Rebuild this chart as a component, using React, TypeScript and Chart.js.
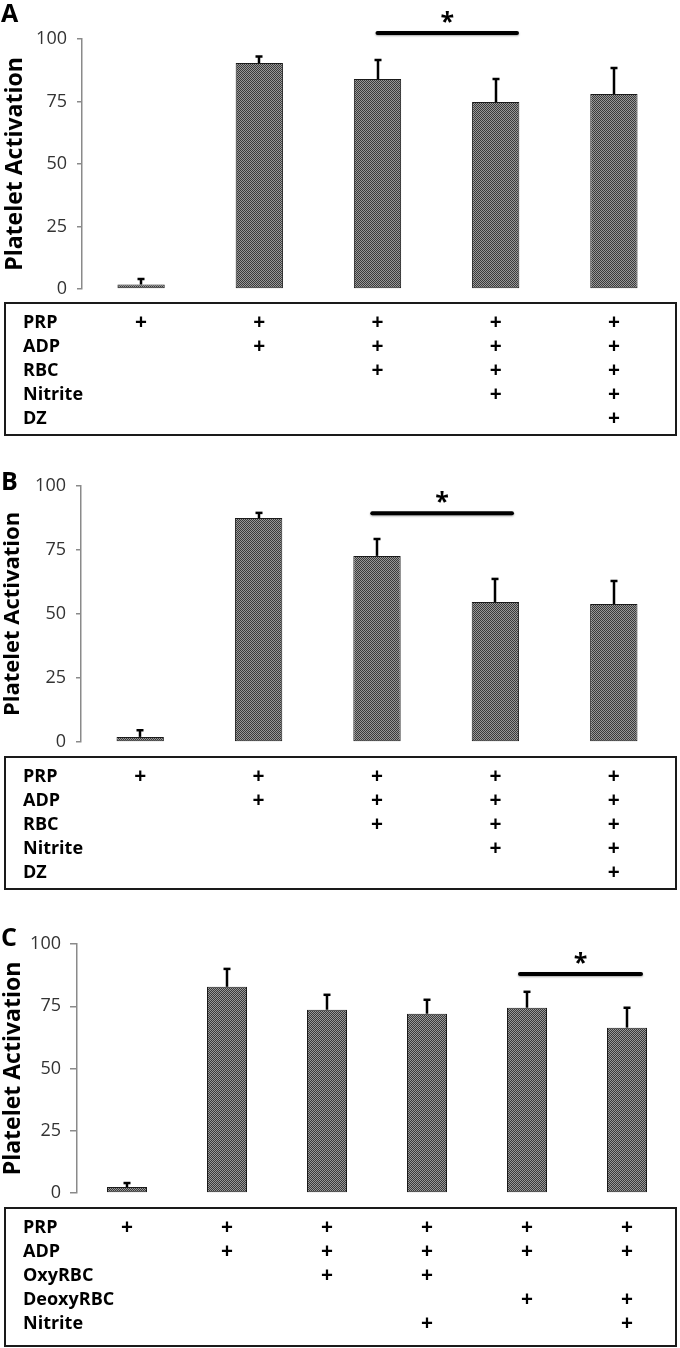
import React, { useEffect, useRef } from "react";
import { Chart, registerables } from "chart.js";
Chart.register(...registerables);

// ---------- Data ----------
const yTicks = [0, 25, 50, 75, 100];
const axisTitle = "Platelet Activation";

// Panel A
const categoriesA = ["PRP", "PRP+ADP", "PRP+ADP+RBC", "PRP+ADP+RBC+Nitrite", "PRP+ADP+RBC+Nitrite+DZ"];
const meansA = [1.8, 90.4, 84, 74.8, 78];
const errorsA = [2.2, 2.6, 7.6, 9.2, 10.4];
const rowLabelsA = ["PRP", "ADP", "RBC", "Nitrite", "DZ"];
const marksA = [
  [1, 1, 1, 1, 1],
  [0, 1, 1, 1, 1],
  [0, 0, 1, 1, 1],
  [0, 0, 0, 1, 1],
  [0, 0, 0, 0, 1],
];
const sigA = { from: 2, to: 3.18, level: 102.4 };

// Panel B
const categoriesB = ["PRP", "PRP+ADP", "PRP+ADP+RBC", "PRP+ADP+RBC+Nitrite", "PRP+ADP+RBC+Nitrite+DZ"];
const meansB = [2.0, 87.5, 72.7, 54.7, 53.9];
const errorsB = [2.6, 2.0, 6.6, 9.0, 9.0];
const rowLabelsB = ["PRP", "ADP", "RBC", "Nitrite", "DZ"];
const marksB = [
  [1, 1, 1, 1, 1],
  [0, 1, 1, 1, 1],
  [0, 0, 1, 1, 1],
  [0, 0, 0, 1, 1],
  [0, 0, 0, 0, 1],
];
const sigB = { from: 1.96, to: 3.14, level: 89.4 };

// Panel C
const categoriesC = ["PRP", "PRP+ADP", "PRP+ADP+OxyRBC", "PRP+ADP+OxyRBC+Nitrite", "PRP+ADP+DeoxyRBC", "PRP+ADP+DeoxyRBC+Nitrite"];
const meansC = [2.4, 82.8, 73.6, 72, 74.4, 66.4];
const errorsC = [1.6, 7.2, 6, 5.6, 6.4, 8];
const rowLabelsC = ["PRP", "ADP", "OxyRBC", "DeoxyRBC", "Nitrite"];
const marksC = [
  [1, 1, 1, 1, 1, 1],
  [0, 1, 1, 1, 1, 1],
  [0, 0, 1, 1, 0, 0],
  [0, 0, 0, 0, 1, 1],
  [0, 0, 0, 1, 0, 1],
];
const sigC = { from: 3.93, to: 5.14, level: 88 };

// ---------- Layout (not data) ----------
const panels = [
  {
    letter: "A", categories: categoriesA, means: meansA, errors: errorsA, rows: rowLabelsA, marks: marksA, sig: sigA,
    top: 0, h: 440, axisX: 82, chartTop: 39, chartBottom: 289, rightPad: 7, tableTop: 303, tableH: 132,
    letterBase: 22, titleSize: 23, titlePad: 2, tickLen: 5, tickPad: 10,
  },
  {
    letter: "B", categories: categoriesB, means: meansB, errors: errorsB, rows: rowLabelsB, marks: marksB, sig: sigB,
    top: 440, h: 455, axisX: 81, chartTop: 46, chartBottom: 302, rightPad: 7, tableTop: 317, tableH: 132,
    letterBase: 50, titleSize: 22, titlePad: 0, tickLen: 5, tickPad: 10,
  },
  {
    letter: "C", categories: categoriesC, means: meansC, errors: errorsC, rows: rowLabelsC, marks: marksC, sig: sigC,
    top: 895, h: 453, axisX: 77, chartTop: 49, chartBottom: 298, rightPad: 3, tableTop: 313, tableH: 138,
    letterBase: 51, titleSize: 23, titlePad: 0, tickLen: 7, tickPad: 9,
  },
];

const FONT = '"Open Sans", "DejaVu Sans", sans-serif';

function makePattern(ctx: CanvasRenderingContext2D) {
  const pc = document.createElement("canvas");
  pc.width = 2;
  pc.height = 2;
  const g = pc.getContext("2d")!;
  g.fillStyle = "#989898";
  g.fillRect(0, 0, 2, 2);
  g.fillStyle = "#3a3a3a";
  g.fillRect(0, 0, 1, 1);
  g.fillRect(1, 1, 1, 1);
  return ctx.createPattern(pc, "repeat")!;
}

function Panel({ p }: { p: any }) {
  const ref = useRef<HTMLCanvasElement>(null);
  useEffect(() => {
    const canvas = ref.current!;
    const ctx2 = canvas.getContext("2d")!;
    const pattern = makePattern(ctx2);
    const extras = {
      id: "extras" + p.letter,
      afterDatasetsDraw(chart: any) {
        const { ctx, scales } = chart;
        const x = scales.x, y = scales.y;
        ctx.save();
        ctx.strokeStyle = "#000";
        ctx.lineWidth = 2.5;
        p.means.forEach((m: number, i: number) => {
          const cx = Math.round(x.getPixelForValue(i));
          const y0 = y.getPixelForValue(m);
          const y1 = y.getPixelForValue(m + p.errors[i]);
          ctx.beginPath();
          ctx.moveTo(cx, y0);
          ctx.lineTo(cx, y1);
          ctx.stroke();
          ctx.beginPath();
          ctx.moveTo(cx - 3.5, y1);
          ctx.lineTo(cx + 3.5, y1);
          ctx.stroke();
        });
        ctx.restore();
      },
      afterDraw(chart: any) {
        const { ctx, scales } = chart;
        const x = scales.x, y = scales.y;
        ctx.save();
        // significance bar
        const sx0 = x.getPixelForValue(p.sig.from);
        const sx1 = x.getPixelForValue(p.sig.to);
        const sy = y.getPixelForValue(p.sig.level);
        ctx.shadowColor = "rgba(0,0,0,0.35)";
        ctx.shadowBlur = 2;
        ctx.shadowOffsetY = 1;
        ctx.strokeStyle = "#000";
        ctx.lineWidth = 4;
        ctx.lineCap = "round";
        ctx.beginPath();
        ctx.moveTo(sx0, sy);
        ctx.lineTo(sx1, sy);
        ctx.stroke();
        ctx.shadowColor = "transparent";
        ctx.fillStyle = "#000";
        ctx.font = `bold 25px ${FONT}`;
        ctx.textAlign = "center";
        ctx.textBaseline = "alphabetic";
        ctx.fillText("*", (sx0 + sx1) / 2, sy - 16 + 13);
        // panel letter
        ctx.textAlign = "left";
        ctx.font = `bold 25px ${FONT}`;
        ctx.fillText(p.letter, 1, p.letterBase);
        // table
        ctx.strokeStyle = "#1a1a1a";
        ctx.lineWidth = 2;
        ctx.strokeRect(5, p.tableTop, 671, p.tableH);
        ctx.textBaseline = "middle";
        p.rows.forEach((label: string, r: number) => {
          const ry = p.tableTop + 20 + r * 24;
          ctx.textAlign = "left";
          ctx.font = `bold 18px ${FONT}`;
          ctx.fillText(label, 23, ry);
          ctx.textAlign = "center";
          ctx.font = `bold 21px ${FONT}`;
          p.marks[r].forEach((v: number, i: number) => {
            if (v) ctx.fillText("+", x.getPixelForValue(i), ry);
          });
        });
        ctx.restore();
      },
    };
    const chart = new Chart(canvas, {
      type: "bar",
      data: {
        labels: p.categories,
        datasets: [
          {
            data: p.means,
            backgroundColor: pattern as any,
            borderColor: "#1a1a1a",
            borderWidth: 1,
            borderSkipped: false,
            barPercentage: 0.4,
            categoryPercentage: 1,
          },
        ],
      },
      options: {
        responsive: false,
        maintainAspectRatio: false,
        animation: false,
        devicePixelRatio: 1,
        layout: {
          padding: { left: 0, right: p.rightPad, top: p.chartTop, bottom: p.h - p.chartBottom },
        },
        plugins: { legend: { display: false }, tooltip: { enabled: false } },
        scales: {
          x: { display: false },
          y: {
            min: 0,
            max: 100,
            afterFit(scale: any) {
              scale.width = p.axisX;
            },
            afterBuildTicks(scale: any) {
              scale.ticks = yTicks.map((v) => ({ value: v }));
            },
            ticks: {
              font: { family: FONT, size: 18 },
              color: "#333333",
              padding: p.tickPad,
            },
            grid: {
              display: true,
              drawOnChartArea: false,
              drawTicks: true,
              tickLength: p.tickLen,
              color: "#8a8a8a",
              lineWidth: 1.5,
            },
            border: { display: true, color: "#8a8a8a", width: 1.5 },
            title: {
              display: true,
              text: axisTitle,
              color: "#000",
              font: { family: FONT, size: p.titleSize, weight: "bold" },
              padding: { top: p.titlePad, bottom: 0 },
            },
          },
        },
      },
      plugins: [extras],
    } as any);
    return () => chart.destroy();
  }, [p]);
  return (
    <canvas
      ref={ref}
      width={680}
      height={p.h}
      style={{ position: "absolute", left: 0, top: p.top, width: 680, height: p.h, display: "block" }}
    />
  );
}

export default function App() {
  return (
    <div style={{ position: "absolute", left: 0, top: 0, width: 680, height: 1348, background: "#fff" }}>
      {panels.map((p) => (
        <Panel key={p.letter} p={p} />
      ))}
    </div>
  );
}
